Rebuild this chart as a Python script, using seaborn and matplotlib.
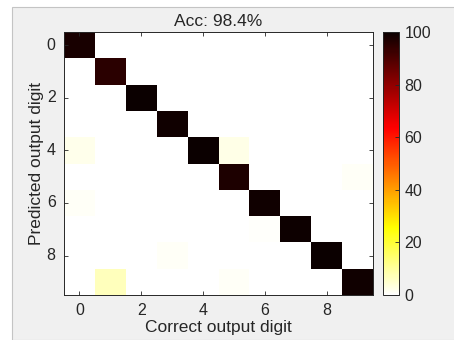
import numpy as np
import pandas as pd
import seaborn as sns
import matplotlib.pyplot as plt
from matplotlib.patches import Rectangle

digits = list(range(10))
# diagonal = correctly classified share (%) per digit
diag_vals = [98, 95, 100, 99, 100, 97, 99, 99.5, 100, 99]
# off-diagonal confusions: (predicted row, correct column, percent)
off_rows = [4, 6, 9, 8, 4, 9, 7, 5]
off_cols = [0, 0, 1, 3, 5, 5, 6, 9]
off_vals = [2, 1, 7, 1, 2.5, 1, 0.6, 0.8]
acc = 98.4

mat = np.zeros((10, 10))
for i, v in enumerate(diag_vals):
    mat[i, i] = v
for r, c, v in zip(off_rows, off_cols, off_vals):
    mat[r, c] = v
cm = pd.DataFrame(mat, index=digits, columns=digits)

plt.rcParams['font.family'] = ['Liberation Sans', 'DejaVu Sans']
txt = '#262626'

fig = plt.figure(figsize=(4.54, 3.40), dpi=100)
fig.patch.set_facecolor('white')
fig.patches.append(Rectangle((12/454, 0), 1, 333/340, transform=fig.transFigure,
                             facecolor='#f0f0f0', edgecolor='#c4c4c4', lw=0.8, zorder=-1))

ax = fig.add_axes([64/454, 1-295/340, (373-64)/454, (295-32)/340])
cax = fig.add_axes([383/454, 1-295/340, 16/454, (295-32)/340])

sns.heatmap(cm, ax=ax, cbar_ax=cax, cmap='hot_r', vmin=0, vmax=100,
            cbar_kws={'ticks': [0, 20, 40, 60, 80, 100]})

ax.set_xticks([0.5, 2.5, 4.5, 6.5, 8.5])
ax.set_xticklabels(['0', '2', '4', '6', '8'], rotation=0)
ax.set_yticks([0.5, 2.5, 4.5, 6.5, 8.5])
ax.set_yticklabels(['0', '2', '4', '6', '8'], rotation=0)
ax.tick_params(direction='in', length=3, width=0.6, color='#262626',
               labelsize=11.5, labelcolor=txt, top=True, right=True, pad=6)
for s in ax.spines.values():
    s.set_visible(True)
    s.set_color('#262626')
    s.set_linewidth(0.7)
ax.set_title('Acc: %.1f%%' % acc, fontsize=12.5, color=txt, pad=4)
ax.set_xlabel('Correct output digit', fontsize=12.5, color=txt, labelpad=1)
ax.set_ylabel('Predicted output digit', fontsize=12.5, color=txt, labelpad=2)

cax.tick_params(direction='in', length=3, width=0.6, labelsize=11.5,
                labelcolor=txt, color='#262626', pad=4)
cbar = ax.collections[0].colorbar
cbar.outline.set_visible(True)
cbar.outline.set_edgecolor('#262626')
cbar.outline.set_linewidth(0.7)

fig.savefig('out.png', dpi=100)
